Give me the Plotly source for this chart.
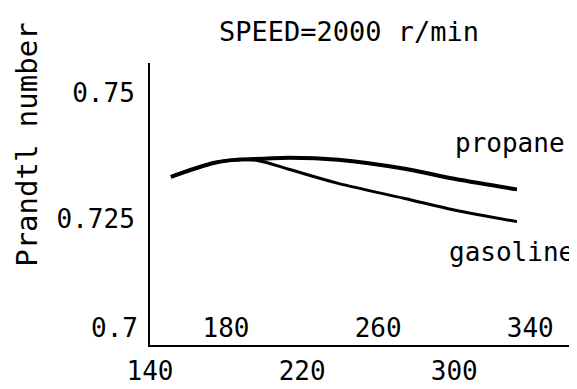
import plotly.graph_objects as go

# Data
propane_x = [151, 174, 186, 200, 213, 239, 274, 300, 333]
propane_y = [0.7334, 0.7362, 0.7368, 0.7370, 0.7372, 0.7368, 0.7350, 0.7330, 0.7309]
gasoline_x = [151, 174, 186, 197, 213, 239, 274, 300, 333]
gasoline_y = [0.7334, 0.7362, 0.7368, 0.7366, 0.7349, 0.7321, 0.7291, 0.7268, 0.7245]

x_ticks_below = [140, 220, 300]
x_ticks_above = [180, 260, 340]
y_ticks = [0.725, 0.75]
y_tick_bottom = [0.7]

FONT = "DejaVu Sans Mono"
X_RANGE = [140, 363]
Y_RANGE = [0.7, 0.756]
TICK_FONT = dict(family=FONT, size=26, color="black")

fig = go.Figure()
fig.add_trace(go.Scatter(x=propane_x, y=propane_y, mode="lines",
                         line=dict(color="black", width=4, shape="spline"),
                         showlegend=False, hoverinfo="skip"))
fig.add_trace(go.Scatter(x=gasoline_x, y=gasoline_y, mode="lines",
                         line=dict(color="black", width=3, shape="spline"),
                         showlegend=False, hoverinfo="skip"))
fig.add_trace(go.Scatter(x=[None], y=[None], xaxis="x2", showlegend=False, hoverinfo="skip"))

fig.update_layout(
    width=577, height=389,
    margin=dict(l=142, r=11, t=55, b=37),
    paper_bgcolor="white", plot_bgcolor="white",
    font=dict(family=FONT, size=26, color="black"),
    xaxis=dict(range=X_RANGE, tickvals=x_ticks_below, ticktext=[str(v) for v in x_ticks_below],
               showgrid=False, zeroline=False, showline=True, linecolor="black", linewidth=2,
               ticks="", ticklabelstandoff=2, tickfont=TICK_FONT),
    xaxis2=dict(range=X_RANGE, overlaying="x", anchor="y", side="bottom",
                tickvals=x_ticks_above, ticktext=[str(v) for v in x_ticks_above],
                ticklabelposition="inside", showgrid=False, zeroline=False, showline=False,
                ticks="", tickfont=TICK_FONT),
    yaxis=dict(range=Y_RANGE, tickvals=y_ticks, ticktext=["0.725", "0.75"],
               showgrid=False, zeroline=False, showline=True, linecolor="black", linewidth=2,
               ticks="", ticklabelstandoff=8, tickfont=TICK_FONT),
)

# bottom y label sits just above the x axis line
fig.add_annotation(text="0.7", xref="paper", yref="y", x=0, y=y_tick_bottom[0],
                   xanchor="right", yanchor="middle", xshift=-10, yshift=17,
                   showarrow=False, font=TICK_FONT)
fig.add_annotation(text="SPEED=2000 r/min", xref="paper", yref="paper", x=0.47, y=1.11,
                   showarrow=False, font=dict(size=27), xanchor="center", yanchor="middle")
fig.add_annotation(text="Prandtl number", xref="paper", yref="paper", x=-0.29, y=0.71,
                   showarrow=False, textangle=-90, font=dict(size=29), xanchor="center", yanchor="middle")
fig.add_annotation(text="propane", xref="paper", yref="paper", x=0.85, y=0.715,
                   showarrow=False, font=dict(size=26), xanchor="center", yanchor="middle")
fig.add_annotation(text="gasoline", xref="paper", yref="paper", x=0.853, y=0.33,
                   showarrow=False, font=dict(size=26), xanchor="center", yanchor="middle")

fig.write_html("out.html")
